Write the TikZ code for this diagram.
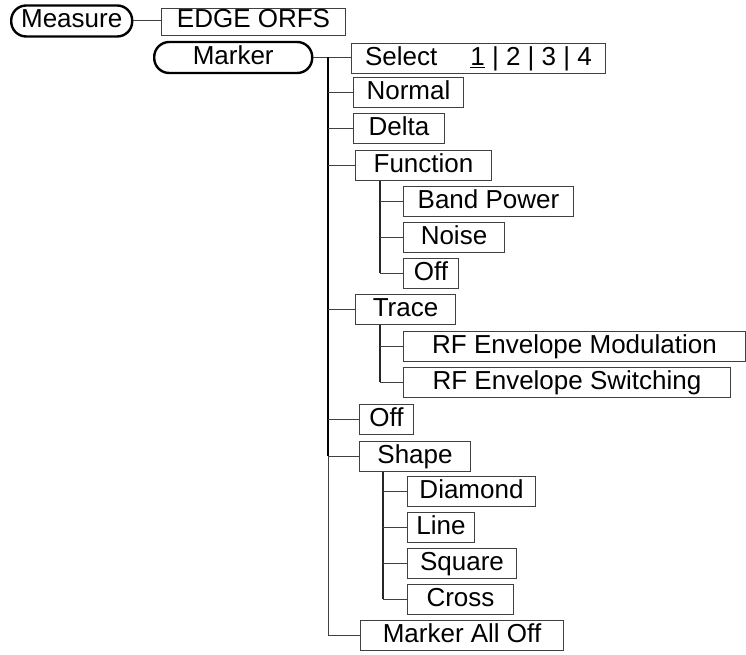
\documentclass[tikz,border=0pt]{standalone}
\usepackage{fontspec}
\setmainfont{Liberation Sans}
\usetikzlibrary{positioning}
\tikzset{
  softkey/.style={
    rectangle,
    rounded corners=15pt,
    draw=black,
    line width=2.4pt,
    anchor=west,
    inner sep=0pt,
    minimum height=31pt,
    text height=19pt,
    text depth=5pt
  },
  menu/.style={
    rectangle,
    draw=black!75,
    line width=1pt,
    anchor=west,
    inner sep=0pt,
    minimum height=30pt,
    text height=19pt,
    text depth=5pt
  },
  link/.style={draw=black!75, line width=1pt},
  trunk/.style={draw=black, line width=2pt},
  subtrunk/.style={draw=black!85, line width=1.3pt}
}

\begin{document}
\begin{tikzpicture}[x=1pt, y=-1pt, font=\fontsize{26}{30}\selectfont]
  \useasboundingbox (0,0) rectangle (746,655);

  % top level keys
  \node[softkey, minimum width=121pt] (measure) at (10,21) {Measure};
  \node[menu, minimum width=184pt, minimum height=27pt, text height=16pt] (edge) at (161,22) {EDGE ORFS};
  \node[softkey, minimum width=158pt] (marker) at (153,57.5) {Marker};

  % marker menu
  \node[menu, minimum width=254pt] (select) at (351,59) {Select\hspace{33pt}\underline{1} | 2 | 3 | 4};
  \node[menu, minimum width=110pt] (normal) at (353,93) {Normal};
  \node[menu, minimum width=91pt] (delta) at (353,129) {Delta};
  \node[menu, minimum width=136pt] (func) at (355,165.5) {Function};
  \node[menu, minimum width=170pt] (bandpow) at (403,201.5) {Band Power};
  \node[menu, minimum width=101pt] (noise) at (403,237) {Noise};
  \node[menu, minimum width=55pt] (funcoff) at (403,273) {Off};
  \node[menu, minimum width=100pt] (trace) at (355,309) {Trace};
  \node[menu, minimum width=342pt] (rfmod) at (403,346) {RF Envelope Modulation};
  \node[menu, minimum width=327pt] (rfswitch) at (403,382) {RF Envelope Switching};
  \node[menu, minimum width=54pt] (off) at (359,419) {Off};
  \node[menu, minimum width=111pt] (shape) at (359,456) {Shape};
  \node[menu, minimum width=128pt] (diamond) at (407,491.5) {Diamond};
  \node[menu, minimum width=67pt] (line) at (407,527.5) {Line};
  \node[menu, minimum width=109pt] (square) at (407,563) {Square};
  \node[menu, minimum width=106pt] (cross) at (407,599) {Cross};
  \node[menu, minimum width=203pt] (alloff) at (360,635.5) {Marker All Off};

  \coordinate (t) at (328,57.5);
  \coordinate (fs) at ([xshift=25pt]func.south west);
  \coordinate (ts) at ([xshift=25pt]trace.south west);
  \coordinate (ss) at ([xshift=24pt]shape.south west);

  \draw[link] (measure.east) -- (measure.east -| edge.west);
  \draw[link] (marker.east) -- (marker.east -| select.west);
  \draw[trunk] (t) -- (t |- shape.west);
  \draw[link] (t |- shape.west) |- (alloff.west);
  \foreach \n in {normal,delta,func,trace,off,shape}
    \draw[link] (t |- \n.west) -- (\n.west);

  \draw[subtrunk] (fs) -- (fs |- funcoff.west);
  \foreach \n in {bandpow,noise,funcoff}
    \draw[link] (fs |- \n.west) -- (\n.west);
  \draw[subtrunk] (ts) -- (ts |- rfswitch.west);
  \foreach \n in {rfmod,rfswitch}
    \draw[link] (ts |- \n.west) -- (\n.west);
  \draw[subtrunk] (ss) -- (ss |- cross.west);
  \foreach \n in {diamond,line,square,cross}
    \draw[link] (ss |- \n.west) -- (\n.west);
\end{tikzpicture}
\end{document}
